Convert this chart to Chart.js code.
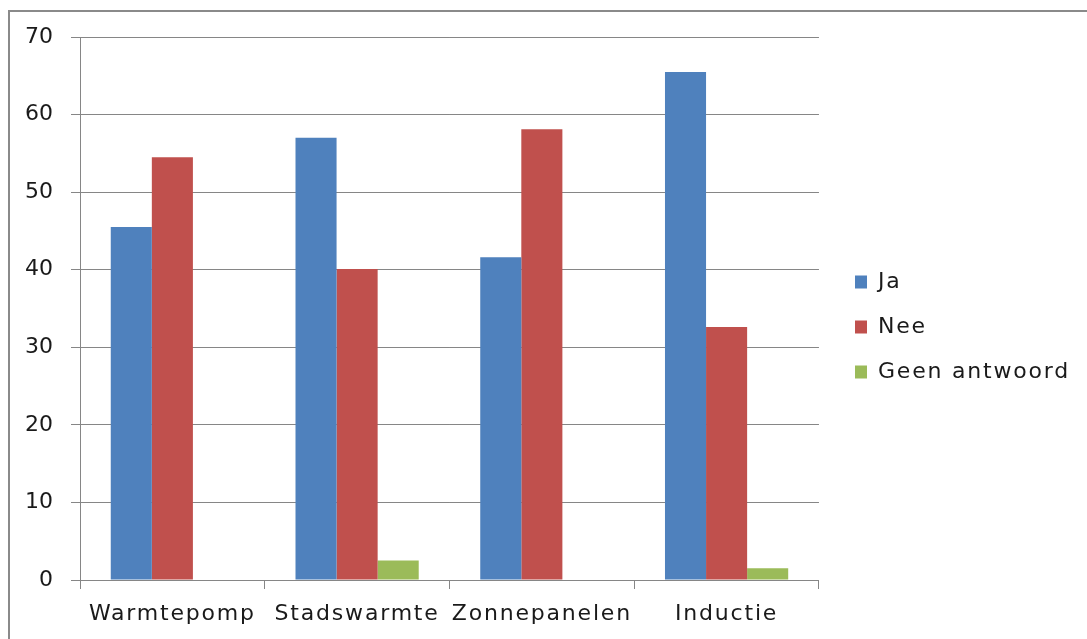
<!DOCTYPE html>
<html>
<head>
<meta charset="utf-8">
<script src="https://cdn.jsdelivr.net/npm/chart.js@4.4.0/dist/chart.umd.min.js"></script>
<style>
  html, body { margin: 0; padding: 0; background: #fff; }
  #wrap { position: relative; width: 1087px; height: 639px; }
</style>
</head>
<body>
<div id="wrap"><canvas id="c" width="1087" height="639"></canvas></div>
<script>
const categories = ["Warmtepomp", "Stadswarmte", "Zonnepanelen", "Inductie"];
const seriesNames = ["Ja", "Nee", "Geen antwoord"];
const ja = [45.5, 57.0, 41.6, 65.5];
const nee = [54.5, 40.1, 58.1, 32.6];
const geenAntwoord = [null, 2.5, null, 1.5];
const yTicks = [0, 10, 20, 30, 40, 50, 60, 70];

const colors = ["#4F81BD", "#C0504D", "#9BBB59"];
const gridColor = "#868686";
const textColor = "#1a1a1a";
const FONT = "'DejaVu Sans', Verdana, sans-serif";
const LETTER_SPACING = "1.8px";

const framePlugin = {
  id: "frame",
  beforeLayout(chart) {
    chart.ctx.letterSpacing = LETTER_SPACING;
  },
  afterLayout(chart) {
    const lg = chart.legend;
    if (lg) {
      const dx = 855 - (lg.left + lg.options.labels.padding);
      lg.left += dx; lg.right += dx;
      lg.top -= 11; lg.bottom -= 11;
    }
  },
  beforeDraw(chart) {
    const ctx = chart.ctx;
    ctx.letterSpacing = LETTER_SPACING;
    const ys = chart.scales.y;
    if (ys && !ys._wrapped) {
      const orig = ys.drawLabels.bind(ys);
      ys.drawLabels = function (area) {
        const prev = ctx.letterSpacing;
        ctx.letterSpacing = "0px";
        orig(area);
        ctx.letterSpacing = prev;
      };
      ys._wrapped = true;
    }
    ctx.save();
    ctx.fillStyle = "#fff";
    ctx.fillRect(0, 0, chart.width, chart.height);
    ctx.strokeStyle = "#8a8a8a";
    ctx.lineWidth = 2;
    ctx.beginPath();
    ctx.moveTo(9, chart.height + 5);
    ctx.lineTo(9, 11);
    ctx.lineTo(chart.width + 5, 11);
    ctx.stroke();
    ctx.restore();
  }
};

const allSeries = [ja, nee, geenAntwoord];
new Chart(document.getElementById("c"), {
  type: "bar",
  data: {
    labels: categories,
    datasets: seriesNames.map((n, i) => ({
      label: n,
      data: allSeries[i],
      backgroundColor: colors[i],
      borderWidth: 0,
      barPercentage: 1.0,
      categoryPercentage: 0.667
    }))
  },
  options: {
    responsive: false,
    animation: false,
    layout: { padding: { left: 0, top: 37, right: 20, bottom: 0 } },
    plugins: {
      tooltip: { enabled: false },
      legend: {
        position: "right",
        align: "center",
        labels: {
          boxWidth: 12,
          boxHeight: 13,
          padding: 23,
          color: textColor,
          font: { family: FONT, size: 22 }
        }
      }
    },
    scales: {
      x: {
        offset: true,
        grid: {
          offset: true,
          drawOnChartArea: false,
          drawTicks: true,
          tickLength: 9,
          color: gridColor
        },
        border: { color: gridColor, width: 1 },
        ticks: {
          color: textColor,
          padding: 12,
          maxRotation: 0,
          font: { family: FONT, size: 22 }
        },
        afterFit(scale) { scale.height = 59; }
      },
      y: {
        min: 0,
        max: 70,
        afterBuildTicks(scale) { scale.ticks = yTicks.map(v => ({ value: v })); },
        grid: {
          color: gridColor,
          tickLength: 9,
          drawTicks: true
        },
        border: { color: gridColor, width: 1 },
        ticks: {
          color: textColor,
          padding: 18,
          font: { family: FONT, size: 22 }
        },
        afterFit(scale) { scale.width = 80; }
      }
    }
  },
  plugins: [framePlugin]
});
</script>
</body>
</html>
